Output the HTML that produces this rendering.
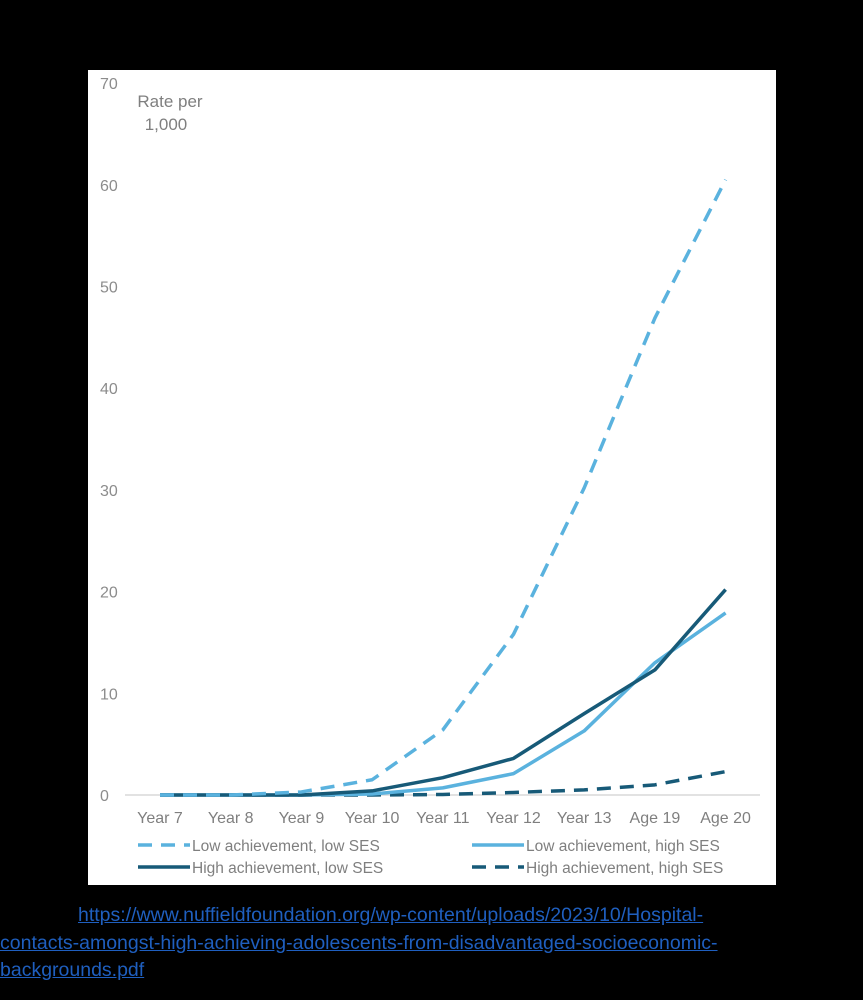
<!DOCTYPE html>
<html><head><meta charset="utf-8"><style>
body{margin:0;background:#000;width:863px;height:1000px;overflow:hidden;font-family:"Liberation Sans",sans-serif}
#panel{position:absolute;left:88px;top:70px;width:688px;height:815px;background:#fff}
#src{position:absolute;left:0;top:902px;width:800px;font-size:19.5px;line-height:27.5px;color:#1f5fbf}
#src a{color:#1f5fbf;text-decoration:underline}
</style></head><body>
<div id="panel"></div>
<svg id="chart" width="863" height="1000" style="position:absolute;left:0;top:0"></svg>
<div id="src"><span style="display:inline-block;width:78px"></span><a>https://www.nuffieldfoundation.org/wp-content/uploads/2023/10/Hospital-<br>contacts-amongst-high-achieving-adolescents-from-disadvantaged-socioeconomic-<br>backgrounds.pdf</a></div>
<script>
const categories=["Year 7","Year 8","Year 9","Year 10","Year 11","Year 12","Year 13","Age 19","Age 20"];
const yTicks=[0,10,20,30,40,50,60,70];
const lowAchLowSES=[0,0,0.3,1.5,6.4,15.8,30.2,46.9,60.5];
const lowAchHighSES=[0,0,0,0.1,0.7,2.1,6.3,13,17.9];
const highAchLowSES=[0,0,0,0.4,1.7,3.6,8,12.3,20.2];
const highAchHighSES=[0,0,0,0,0.05,0.25,0.5,1,2.3];
const LIGHT="#5ab2de",DARK="#175a78";
const svg=document.getElementById('chart');const NS="http://www.w3.org/2000/svg";
const x=i=>160+i*70.7;const y=v=>795-v*10.17;
function mk(t,a){const e=document.createElementNS(NS,t);for(const k in a)e.setAttribute(k,a[k]);svg.appendChild(e);return e;}
const base=mk('line',{x1:125,x2:760,y1:y(0),y2:y(0),stroke:'#d9d9d9','stroke-width':1.5});

yTicks.forEach(t=>{const e=mk('text',{x:100,y:y(t)+6,fill:'#8c8c8c','font-size':16});e.textContent=t;
});
const ya=mk('text',{x:170,y:107,fill:'#7f7f7f','font-size':17,'text-anchor':'middle'});ya.textContent='Rate per';

const yb=mk('text',{x:166,y:130,fill:'#7f7f7f','font-size':17,'text-anchor':'middle'});yb.textContent='1,000';

categories.forEach((c,i)=>{const e=mk('text',{x:x(i),y:823,fill:'#7f7f7f','font-size':16,'text-anchor':'middle'});e.textContent=c;
});
function series(d,col,dash,name){const p=mk('polyline',{points:d.map((v,i)=>x(i)+','+y(v)).join(' '),fill:'none',stroke:col,'stroke-width':3.5,'stroke-dasharray':dash?'14 9':'none','stroke-linejoin':'round'});
}
series(highAchHighSES,DARK,true,'series-high-ach-high-ses');
series(lowAchHighSES,LIGHT,false,'series-low-ach-high-ses');
series(highAchLowSES,DARK,false,'series-high-ach-low-ses');
series(lowAchLowSES,LIGHT,true,'series-low-ach-low-ses');
const leg=[[138,845,LIGHT,true,'Low achievement, low SES'],[472,845,LIGHT,false,'Low achievement, high SES'],[138,867,DARK,false,'High achievement, low SES'],[472,867,DARK,true,'High achievement, high SES']];
leg.forEach(l=>{const ln=mk('line',{x1:l[0],x2:l[0]+52,y1:l[1],y2:l[1],stroke:l[2],'stroke-width':3.5,'stroke-dasharray':l[3]?'14 9':'none'});

const t=mk('text',{x:l[0]+54,y:l[1]+6,fill:'#7f7f7f','font-size':15.5});t.textContent=l[4];
});
</script>
</body></html>
